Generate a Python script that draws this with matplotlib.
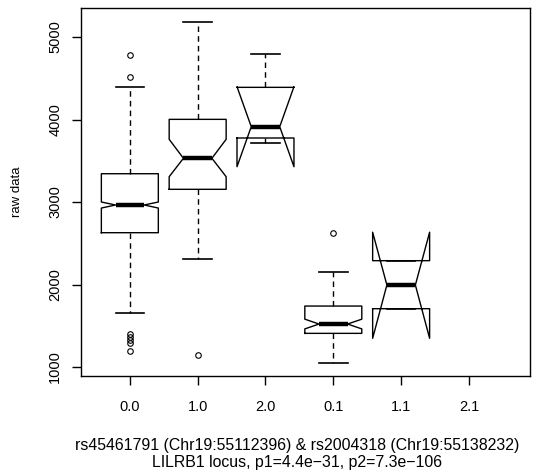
import matplotlib
matplotlib.use("Agg")
import matplotlib.pyplot as plt

plt.rcParams["font.family"] = ["Liberation Sans", "DejaVu Sans"]

groups = ["0.0", "1.0", "2.0", "0.1", "1.1", "2.1"]
# boxplot statistics per non-empty group (2.1 has no data)
med = [2964, 3530, 3913, 1521, 1994]
q1 = [2628, 3154, 3776, 1408, 1707]
q3 = [3343, 4002, 4390, 1739, 2289]
cilo = [2927, 3307, 3428, 1462, 1348]
cihi = [3000, 3760, 4398, 1580, 2634]
whislo = [1658, 2305, 3719, 1045, 1707]
whishi = [4398, 5178, 4794, 2155, 2289]
fliers = [
    [4785, 4519, 1400, 1367, 1330, 1290, 1198],
    [1145],
    [],
    [2628],
    [],
]

stats = []
for i in range(len(med)):
    stats.append(dict(med=med[i], q1=q1[i], q3=q3[i], cilo=cilo[i], cihi=cihi[i],
                      whislo=whislo[i], whishi=whishi[i], fliers=fliers[i]))

fig = plt.figure(figsize=(5.34, 4.75), dpi=100)
ax = fig.add_axes([0.1517, 0.2084, 0.8408, 0.7748])

ax.bxp(stats, positions=range(1, len(med) + 1), widths=0.84, shownotches=True,
       boxprops=dict(color="black", linewidth=1.0),
       medianprops=dict(color="black", linewidth=3.2, solid_capstyle="butt"),
       whiskerprops=dict(color="black", linewidth=1.0, linestyle=(0, (4, 3))),
       capprops=dict(color="black", linewidth=1.2),
       flierprops=dict(marker="o", markerfacecolor="none", markeredgecolor="black",
                       markersize=4, markeredgewidth=0.8))

ax.set_xlim(0.28, 6.9)
ax.set_ylim(891, 5352)
ax.set_xticks(range(1, len(groups) + 1))
ax.set_xticklabels(groups)
ax.set_yticks([1000, 2000, 3000, 4000, 5000])
ax.set_yticklabels(["1000", "2000", "3000", "4000", "5000"], rotation=90, va="center")
ax.tick_params(direction="out", length=6.5, width=1, labelsize=10.5, colors="black")
ax.tick_params(axis="x", pad=11)
ax.tick_params(axis="y", pad=7)
for s in ax.spines.values():
    s.set_linewidth(1.0)

ax.set_ylabel("raw data", fontsize=9.5)
ax.yaxis.set_label_coords(-0.129, 0.5)

fig.text(297 / 534, 1 - 454 / 475,
         "rs45461791 (Chr19:55112396) & rs2004318 (Chr19:55138232)\n"
         "LILRB1 locus, p1=4.4e\u221231, p2=7.3e\u2212106",
         fontsize=11.4, ha="center", va="center", linespacing=1.2)

fig.savefig("out.png", dpi=100)
